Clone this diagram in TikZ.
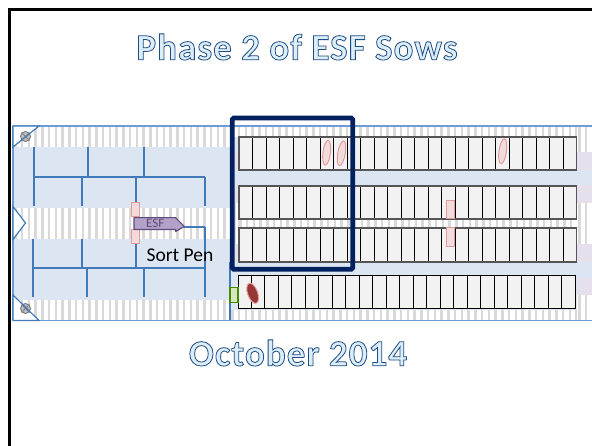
\documentclass[tikz,border=0pt]{standalone}
\usepackage{fontspec}
\setmainfont{Carlito}
\definecolor{barnblue}{HTML}{DCE6F2}
\definecolor{edgeblue}{HTML}{6F9BD6}
\definecolor{penblue}{HTML}{4279B8}
\definecolor{crategray}{HTML}{F2F2F2}
\definecolor{stripegray}{HTML}{D9D9D9}
\definecolor{lilac}{HTML}{E6E0EC}
\definecolor{navy}{HTML}{002060}
\definecolor{pinkfill}{HTML}{F2DCDB}
\definecolor{pinkedge}{HTML}{E29B9B}
\definecolor{sowdark}{HTML}{953735}
\definecolor{esffill}{HTML}{B3A2C7}
\definecolor{esfedge}{HTML}{604A7B}
\definecolor{rowedge}{HTML}{555555}
\newfontfamily\titlefont[LetterSpace=2.8]{Carlito Bold}
\newcommand{\outlined}[1]{\special{pdf:code q 2 Tr 0.8 w 0.12 0.30 0.52 RG 0.86 0.93 0.97 rg}#1\special{pdf:code Q}}
\tikzset{
  pen/.style={draw=penblue,line width=1.2pt},
  crate/.style={draw=black,fill=crategray,line width=0.9pt},
  gatebox/.style={draw=pinkedge,fill=pinkfill,line width=1pt},
  sow/.style={ellipse,draw=pinkedge,fill=pinkfill,line width=1pt},
  valve/.style={circle,draw=gray,fill=lightgray,line width=1pt,minimum size=10pt,inner sep=0pt},
  title/.style={font=\titlefont\fontsize{37}{37}\selectfont,inner sep=0pt},
  tip/.style={draw=edgeblue,line width=1.3pt}
}
\usetikzlibrary{shapes.geometric}
\newcommand{\stripes}[4]{% x1 x2 y1 y2
  \fill[white] (#1,#3) rectangle (#2,#4);
  \pgfmathsetmacro{\xs}{#1+1}
  \pgfmathsetmacro{\xn}{#1+7.75}
  \foreach \x in {\xs,\xn,...,#2}{\fill[stripegray] (\x,#3) rectangle ({min(\x+2.6,#2)},#4);}
}
\newcommand{\craterow}[5]{% x0 y1 y2 spacing edgecolor
  \fill[crategray] (#1,#2) rectangle ({#1+25*#4},#3);
  \foreach \i in {0,...,25}{\draw[black,line width=1pt] ({#1+\i*#4},#2) -- ({#1+\i*#4},#3);}
  \draw[#5] (#1,#2) rectangle ({#1+25*#4},#3);
}
\begin{document}
\begin{tikzpicture}[x=1pt,y=-1pt]
\useasboundingbox (0,0) rectangle (592,446);
\fill[white] (0,0) rectangle (592,446);
% slide frame
\draw[black,line width=3pt] (9.5,446) -- (9.5,10) -- (592,10);
% barn floor
\fill[barnblue] (13,126) rectangle (592,320);
% strips
\stripes{13}{230}{127}{147}
\stripes{13}{230}{208}{239}
\stripes{13}{230}{300}{320}
\stripes{230}{592}{127}{137}
\stripes{230}{592}{310}{320}
\stripes{238}{577}{219}{228}
\stripes{577}{592}{127}{320}
\stripes{232}{238}{203}{244}
% lilac ends
\foreach \a/\b in {152/170,185/203,244/262,278/295}{\fill[lilac] (577,\a) rectangle (592,\b);}
\foreach \a/\b in {152/170,185/203,244/262}{\fill[lilac] (234,\a) rectangle (238.5,\b);}
\fill[barnblue] (577,170) rectangle (592,185);
\fill[barnblue] (577,262) rectangle (592,278);
% barn outline
\draw[edgeblue,line width=1.2pt] (13,126) -- (592,126);
\draw[edgeblue,line width=1.2pt] (13,320.5) -- (592,320.5);
\draw[edgeblue,line width=1.2pt] (13,126) -- (13,320.5);
\draw[penblue,line width=1.2pt] (230,262) -- (230,320.5);
% pen lines
\draw[pen] (34,147) -- (34,206);
\draw[pen] (88,147) -- (88,177);
\draw[pen] (144,147) -- (144,177);
\draw[pen] (34,177) -- (205,177);
\draw[pen] (82,177) -- (82,206);
\draw[pen] (136,177) -- (136,206);
\draw[pen] (205,177) -- (205,206);
\draw[pen] (33,239) -- (33,297);
\draw[pen] (82,239) -- (82,268);
\draw[pen] (136,239) -- (136,268);
\draw[pen] (34,268) -- (205,268);
\draw[pen] (87,268) -- (87,297);
\draw[pen] (144,268) -- (144,297);
\draw[pen] (205,227) -- (205,297);
\draw[pen] (184,227) -- (205,227);
% crate rows
\craterow{239}{137}{170}{13.5}{rowedge,line width=1.4pt}
\craterow{239}{186}{219}{13.5}{rowedge,line width=1.4pt}
\craterow{239}{228}{262}{13.5}{rowedge,line width=1.4pt}
\craterow{238}{276}{309}{13.48}{black,line width=1pt}
% corner pieces
\fill[white] (13,126) -- (39,126) -- (13,147) -- cycle;
\fill[white] (13,295) -- (39,320.5) -- (13,320.5) -- cycle;
\node[valve] (v1) at (25.5,136.5) {};
\node[valve] (v2) at (25.5,308.5) {};
\draw[gray,line width=0.8pt] (v1.north west) -- (v1.south east) (v1.north east) -- (v1.south west);
\draw[gray,line width=0.8pt] (v2.north west) -- (v2.south east) (v2.north east) -- (v2.south west);
\draw[penblue,line width=1.2pt] (13,147) -- (39,126) -- (13,126) -- cycle;
\draw[penblue,line width=1.2pt] (13,295) -- (39,320.5) -- (13,320.5) -- cycle;
\fill[white] (13,208) -- (25.5,223) -- (13,239) -- cycle;
\draw[draw=penblue,line width=1.2pt] (13,206.5) -- (25.5,223) -- (13,239.5) -- cycle;
% gates
\node[gatebox,minimum width=7.6pt,minimum height=14pt,inner sep=0pt] (g1) at (135.5,209.3) {};
\node[gatebox,minimum width=7.6pt,minimum height=14pt,inner sep=0pt] (g2) at (135.5,237) {};
\node[gatebox,minimum width=8.6pt,minimum height=18.3pt,inner sep=0pt] (g3) at (450.6,209.2) {};
\node[gatebox,minimum width=8.6pt,minimum height=18.3pt,inner sep=0pt] (g4) at (450.6,236.9) {};
% ESF arrow
\draw[esfedge,fill=esffill,line width=1.1pt,line join=round] (134,217.7) -- (175.7,217.7) -- (184.3,226.5) -- (175.7,231.5) -- (175.7,229.5) -- (134,229.5) -- cycle;
\node[text=esfedge,font=\fontsize{13}{13}\selectfont,inner sep=0pt] (esf) at (155.3,223.8) {ESF};
\node[text=black,font=\fontsize{19.5}{19.5}\selectfont,inner sep=0pt] (sortpen) at (180,255.5) {Sort Pen};
% sows
\node[sow,minimum width=7.5pt,minimum height=25pt,inner sep=0pt,rotate=-7] (s1) at (326.7,152.7) {};
\node[sow,minimum width=7.5pt,minimum height=25pt,inner sep=0pt,rotate=-10] (s2) at (341.5,153.3) {};
\node[sow,minimum width=7.5pt,minimum height=25pt,inner sep=0pt,rotate=-8] (s3) at (502.7,151.3) {};
\node[ellipse,draw=pinkedge,fill=sowdark,line width=1pt,minimum width=10pt,minimum height=21pt,inner sep=0pt,rotate=20] (s4) at (252.7,293.3) {};
% green feeder
\node[draw=black!40!green!50!olive,fill=green!20!olive!25,line width=1.1pt,minimum width=8pt,minimum height=14.5pt,inner sep=0pt] (feeder) at (234,295) {};
% navy frame
\draw[navy,line width=4.8pt,rounded corners=1.5pt] (232.3,118) rectangle (352.7,269.3);
% titles
\node[title] (t1) at (297,47) {\outlined{Phase 2 of ESF Sows}};
\node[title] (t2) at (298,353) {\outlined{October 2014}};
\end{tikzpicture}
\end{document}
